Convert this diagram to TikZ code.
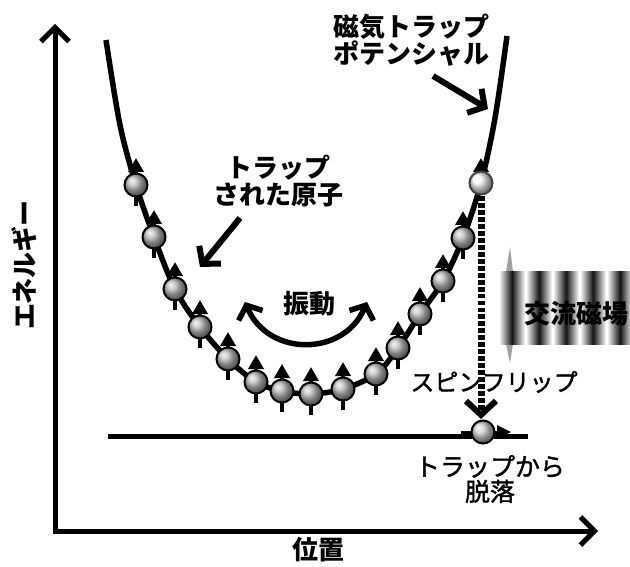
\documentclass[tikz,border=0pt]{standalone}
\usepackage{fontspec}
\setmainfont{Noto Sans CJK JP}
\usetikzlibrary{arrows.meta,calc}
\begin{document}
\begin{tikzpicture}[x=1pt,y=-1pt,
  lbl/.style={font=\fontsize{26}{27}\selectfont\bfseries, align=center, inner sep=0pt},
  midlbl/.style={font=\fontsize{24}{25}\selectfont\addfontfeature{FakeBold=1.5}, align=center, inner sep=0pt},
  axisline/.style={line width=5pt, line join=miter,
    {Straight Barb[length=14pt,width=28pt]}-{Straight Barb[length=14pt,width=28pt]}},
  pointer/.style={line width=6pt, -{Straight Barb[length=12pt,width=28pt]}},
  swing/.style={line width=5.5pt,
    {Straight Barb[length=11pt,width=26pt]}-{Straight Barb[length=11pt,width=26pt]}},
  atom/.style={circle, minimum size=23pt, inner sep=0pt, draw=black, line width=2pt,
    shading=ball, ball color=gray!55},
  lightatom/.style={atom, ball color=gray!8, draw=black!75},
  spin/.style={line width=3.5pt, -{Triangle[length=14pt,width=15pt]}},
  trapcurve/.style={line width=5.5pt},
  dropdot/.style={fill=black},
  drophead/.style={line width=6pt, -{Straight Barb[length=14pt,width=30pt]}},
  band/.style={left color=white, right color=white, middle color=black!92},
]
\useasboundingbox (0,0) rectangle (630,567);

% energy / position axes
\coordinate (O) at (55,531);
\coordinate (ytip) at (55,24);
\coordinate (xtip) at (598,531);
\draw[axisline] (ytip) -- (O) -- (xtip);
\node[lbl, rotate=90] (elab) at (24,265) {エネルギー};
\node[lbl] (xlab) at (318,550) {位置};

% AC magnetic field (shaded stripes)
\fill[gray!75] (510,247) -- (513,272) -- (513,344) -- (510,363) -- (506,344) -- (506,272) -- cycle;
\foreach \cx in {512,539,566,593,620}
  \shade[band] (\cx-13,272) rectangle (\cx+13,344);
\node[font=\fontsize{26}{27}\selectfont\bfseries, inner sep=0pt] (acfield) at (576,314) {交流磁場};

% atom positions along the trap potential
\foreach \i/\px/\py in {1/136/185, 2/154/237, 3/175/289, 4/200/327, 5/228/359,
    6/256/382, 7/282/391, 8/311/394, 9/343/389, 10/376/374, 11/398/348,
    12/420/314, 13/443/281, 14/463/238}
  \coordinate (c\i) at (\px,\py);
\coordinate (lc) at (481,183);
\coordinate (top1) at (106,40);
\coordinate (top2) at (120,125);
\coordinate (top3) at (495,118);
\coordinate (top4) at (507,36);

% magnetic trap potential
\draw[trapcurve] plot[smooth, tension=0.55] coordinates {(top1) (top2) (c1) (c2) (c3) (c4) (c5) (c6)
  (c7) (c8) (c9) (c10) (c11) (c12) (c13) (c14) (lc) (top3) (top4)};

% level of untrapped atoms
\coordinate (g0) at (108,436);
\coordinate (g1) at (528,436);
\draw[line width=5pt] (g0) -- (g1);

% trapped atoms with spin up
\foreach \i in {1,...,14} {
  \draw[spin] ($(c\i)+(0,21)$) -- ($(c\i)+(0,-27)$);
  \node[atom] (b\i) at (c\i) {};
}
\draw[spin] ($(lc)+(0,8)$) -- ($(lc)+(0,-25)$);
\node[lightatom] (lb) at (lc) {};

% spin flip: heavy dotted drop to the untrapped level
\coordinate (fc) at (483,432);
\coordinate (dtip) at (481,419);
\foreach \k in {0,...,30} {
  \pgfmathsetmacro\dotpos{\k/32.2}
  \fill[dropdot] ($(lb.south)!\dotpos!(dtip)$) +(-3.5,1) rectangle +(3.5,5.8);
}
\draw[drophead] ($(dtip)+(0,-6)$) -- (dtip);
\draw[spin, line width=3pt, -{Triangle[length=14pt,width=13pt]}] ($(fc)+(-22,0)$) -- ($(fc)+(28,0)$);
\node[atom, ball color=gray!35] (fb) at (fc) {};

% labels
\node[lbl, align=left] (potlab) at (411,40) {磁気トラップ\\ポテンシャル};
\node[lbl] (traplab) at (278,181) {トラップ\\された原子};
\node[lbl] (osc) at (309,304) {振動};
\node[midlbl] (flip) at (494,382) {スピンフリップ};
\node[midlbl, font=\fontsize{25}{25}\selectfont\addfontfeature{FakeBold=1.5}] (escape) at (490,479) {トラップから\\脱落};

% pointer arrows
\coordinate (pa0) at (433,76);
\coordinate (pa1) at (488,109);
\draw[pointer] (pa0) -- (pa1);
\coordinate (ta0) at (240,218);
\coordinate (ta1) at (200,267);
\draw[pointer] (ta0) -- (ta1);
\coordinate (s0) at (245,302);
\coordinate (s1) at (367,302);
\draw[swing] (s0) .. controls (268,357) and (344,357) .. (s1);
\end{tikzpicture}
\end{document}
